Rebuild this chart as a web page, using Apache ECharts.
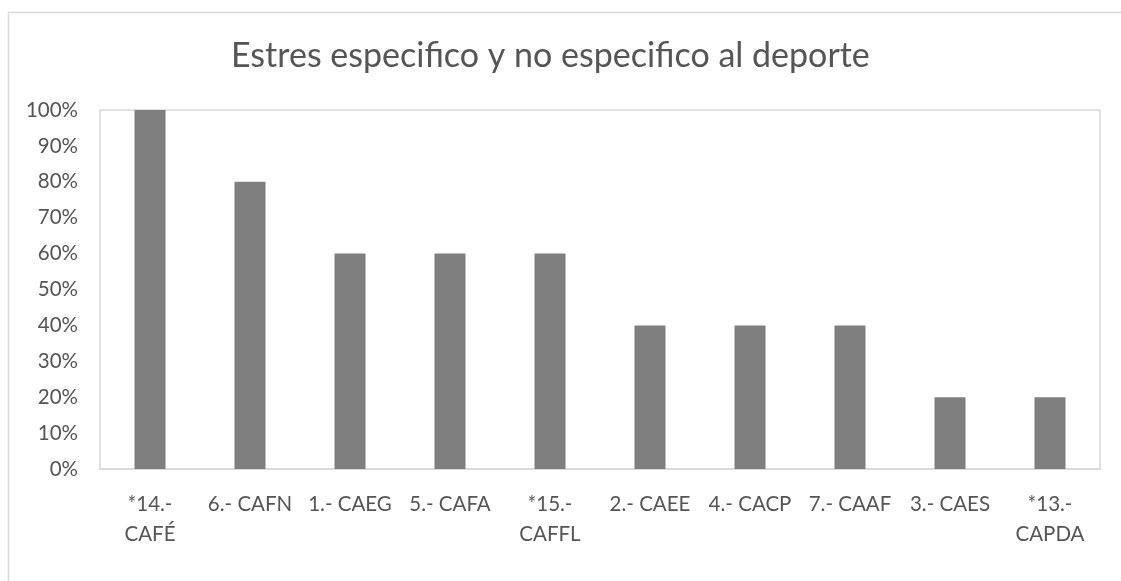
<!DOCTYPE html>
<html><head><meta charset="utf-8">
<script src="https://cdn.jsdelivr.net/npm/echarts@6/dist/echarts.min.js"></script>
<style>html,body{margin:0;padding:0;background:#fff}#c{width:1121px;height:581px}</style>
</head><body><div id="c"></div>
<script>
const title = 'Estres especifico y no especifico al deporte';
const categories = ['*14.-\nCAFÉ', '6.- CAFN', '1.- CAEG', '5.- CAFA', '*15.-\nCAFFL', '2.- CAEE', '4.- CACP', '7.- CAAF', '3.- CAES', '*13.-\nCAPDA'];
const values = [1.0, 0.8, 0.6, 0.6, 0.6, 0.4, 0.4, 0.4, 0.2, 0.2];

const FONT = 'Lato';
const chart = echarts.init(document.getElementById('c'), null, {renderer: 'canvas'});
chart.setOption({
  animation: false,
  backgroundColor: '#fff',
  graphic: [{
    type: 'rect', shape: {x: 8.5, y: 12.5, width: 1200, height: 700},
    style: {fill: 'none', stroke: '#d9d9d9', lineWidth: 1.5}, silent: true, z: -1
  }],
  title: {
    text: title, left: 226, top: 34,
    textStyle: {fontFamily: FONT, fontSize: 34, fontWeight: 'normal', color: '#555555'}
  },
  grid: {left: 100, right: 21, top: 110, bottom: 112, show: true, borderColor: '#d9d9d9', borderWidth: 1.5, backgroundColor: 'transparent'},
  xAxis: {
    type: 'category', data: categories,
    axisLine: {show: true, lineStyle: {color: '#d9d9d9', width: 1.5}},
    axisTick: {show: false},
    axisLabel: {fontFamily: FONT, fontSize: 20.5, color: '#555555', margin: 20, lineHeight: 30, interval: 0}
  },
  yAxis: {
    type: 'value', min: 0, max: 1, interval: 0.1,
    splitLine: {show: false},
    axisLine: {show: false}, axisTick: {show: false},
    axisLabel: {fontFamily: FONT, fontSize: 20.5, color: '#555555', margin: 22,
      formatter: v => Math.round(v * 100) + '%'}
  },
  series: [{
    type: 'bar', data: values, barWidth: 31,
    itemStyle: {color: '#7f7f7f'}
  }]
});
</script></body></html>
